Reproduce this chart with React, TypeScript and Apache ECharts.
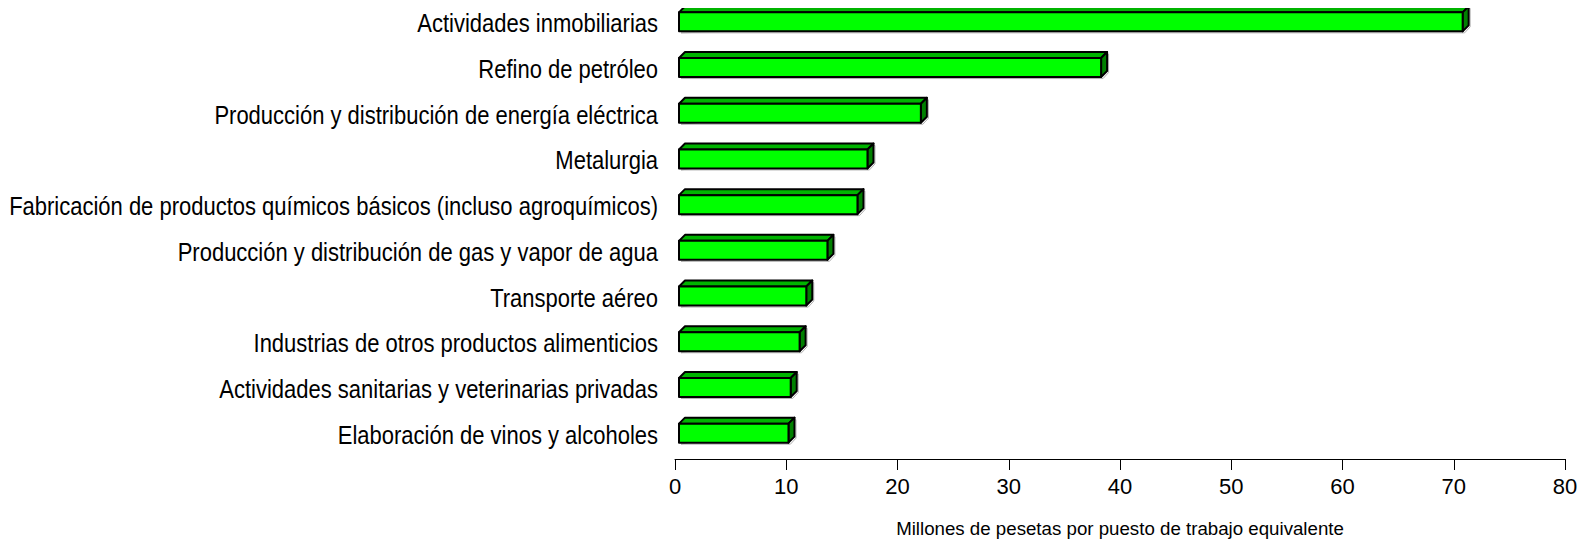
import React, { useEffect, useRef } from "react";
import * as echarts from "echarts";

const categories = [
  "Actividades inmobiliarias",
  "Refino de petróleo",
  "Producción y distribución de energía eléctrica",
  "Metalurgia",
  "Fabricación de productos químicos básicos (incluso agroquímicos)",
  "Producción y distribución de gas y vapor de agua",
  "Transporte aéreo",
  "Industrias de otros productos alimenticios",
  "Actividades sanitarias y veterinarias privadas",
  "Elaboración de vinos y alcoholes",
];
const values = [70.8, 38.3, 22.1, 17.3, 16.4, 13.7, 11.8, 11.2, 10.4, 10.2];
const xTicks = { min: 0, max: 80, interval: 10 };
const axisTitle = "Millones de pesetas por puesto de trabajo equivalente";

export default function App() {
  const ref = useRef<HTMLDivElement>(null);
  useEffect(() => {
    if (!ref.current) return;
    const chart = echarts.init(ref.current, undefined, { renderer: "svg" });
    const depth = 6;
    const h = 19;
    chart.setOption({
      animation: false,
      backgroundColor: "#ffffff",
      grid: {
        left: 675,
        right: 22,
        top: -1,
        bottom: 87,
        containLabel: false,
        outerBoundsMode: "none",
      },
      xAxis: {
        type: "value",
        min: xTicks.min,
        max: xTicks.max,
        interval: xTicks.interval,
        offset: 3,
        splitLine: { show: false },
        axisLine: { show: true, lineStyle: { color: "#000", width: 1 } },
        axisTick: { show: true, length: 11, lineStyle: { color: "#000" } },
        axisLabel: {
          color: "#000",
          fontSize: 22,
          fontFamily: "Liberation Sans, Arial, sans-serif",
          margin: 16,
        },
        name: axisTitle,
        nameLocation: "middle",
        nameGap: 60,
        nameTextStyle: {
          color: "#000",
          fontSize: 18.7,
          fontFamily: "Liberation Sans, Arial, sans-serif",
        },
      },
      yAxis: {
        type: "category",
        data: categories,
        inverse: true,
        axisLine: { show: false },
        axisTick: { show: false },
        splitLine: { show: false },
        axisLabel: { show: false },
      },
      series: [
        {
          type: "custom",
          clip: false,
          data: values.map((v, i) => [v, i]),
          encode: { x: 0, y: 1 },
          renderItem: (params: any, api: any) => {
            const v = api.value(0);
            const idx = api.value(1);
            const p0 = api.coord([0, idx]);
            const p1 = api.coord([v, idx]);
            const x0 = p0[0] + 4;
            const x1 = p1[0];
            const yT = p0[1] - h / 2;
            const yB = p0[1] + h / 2;
            const stroke = { stroke: "#000", lineWidth: 2, lineJoin: "round" };
            return {
              type: "group",
              children: [
                {
                  type: "text",
                  x: p0[0] - 17,
                  y: p0[1] + 2,
                  scaleX: 0.88,
                  style: {
                    text: categories[idx],
                    fontSize: 25,
                    fontFamily: "Liberation Sans, Arial, sans-serif",
                    fill: "#000",
                    align: "right",
                    verticalAlign: "middle",
                  },
                },
                {
                  type: "polygon",
                  shape: {
                    points: [
                      [x0 + 2, yB + 1.5],
                      [x1 + 2, yB + 1.5],
                      [x1 + depth + 1.5, yB - depth + 1.5],
                      [x1 + depth + 1.5, yT - depth + 2],
                    ],
                  },
                  style: { fill: "none", stroke: "#b0b0b0", lineWidth: 1 },
                },
                {
                  type: "polygon",
                  shape: {
                    points: [
                      [x0, yT],
                      [x0 + depth, yT - depth],
                      [x1 + depth, yT - depth],
                      [x1, yT],
                    ],
                  },
                  style: { fill: "#00b400", ...stroke },
                },
                {
                  type: "polygon",
                  shape: {
                    points: [
                      [x1, yT],
                      [x1 + depth, yT - depth],
                      [x1 + depth, yB - depth],
                      [x1, yB],
                    ],
                  },
                  style: { fill: "#008000", ...stroke },
                },
                {
                  type: "rect",
                  shape: { x: x0, y: yT, width: x1 - x0, height: h },
                  style: { fill: "#00ff00", ...stroke },
                },
              ],
            };
          },
        },
      ],
    });
    return () => chart.dispose();
  }, []);
  return <div ref={ref} style={{ width: 1587, height: 543, marginLeft: -8, marginTop: -8 }} />;
}
